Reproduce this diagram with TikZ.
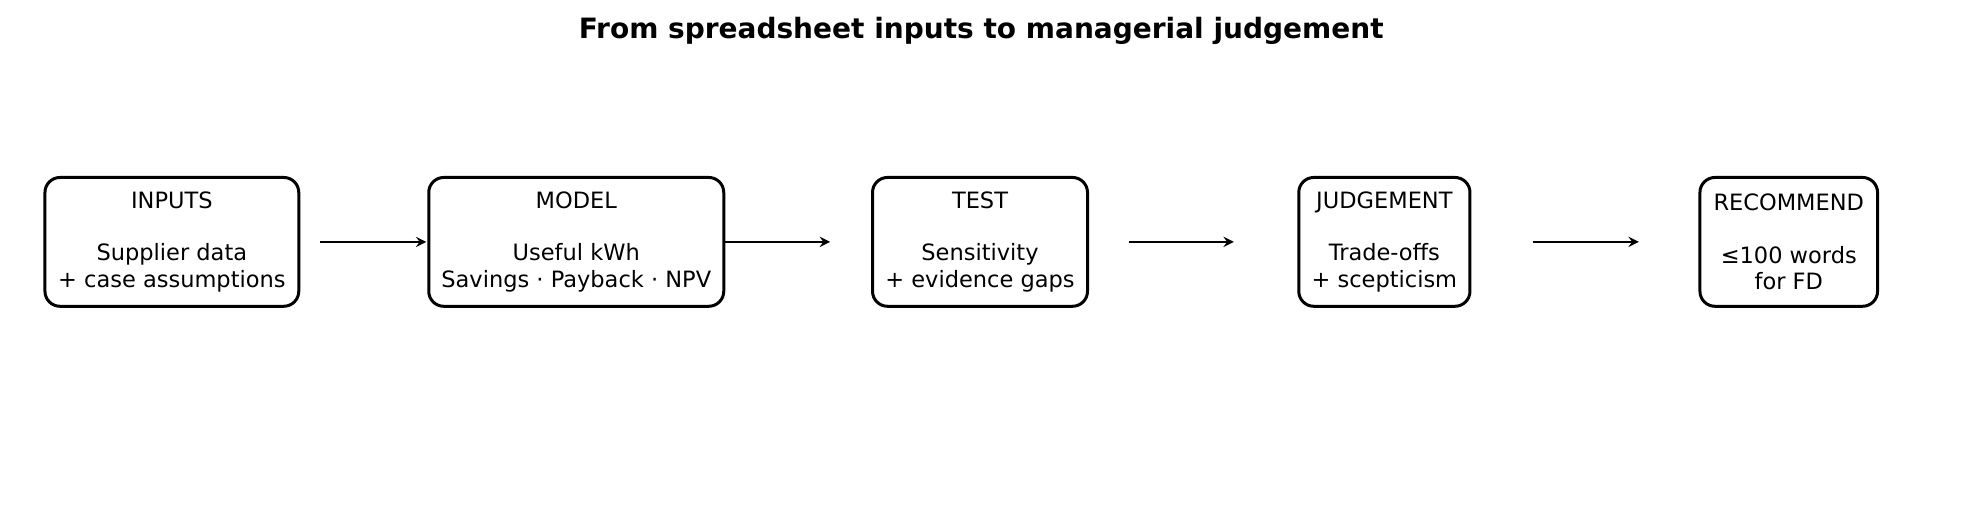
\documentclass[tikz,border=0pt]{standalone}
\usepackage{fontspec}
\setmainfont{DejaVu Sans}
\begin{document}
\begin{tikzpicture}[x=0.625pt,y=-0.625pt,
  box/.style={draw,line width=1.5pt,rounded corners=7.5pt,align=center,inner sep=0pt,
    font=\fontsize{11.25}{13.1}\selectfont},
  arr/.style={->,>=stealth,line width=1.25pt}]
\useasboundingbox (0,0) rectangle (1568.8,415.2);
\node[font=\fontsize{14}{16}\selectfont\bfseries] (title) at (785,25) {From spreadsheet inputs to managerial judgement};
\node[box,minimum width=126.9pt,minimum height=64.4pt] (in) at (137.5,193.5) {INPUTS\\\mbox{}\\Supplier data\\+ case assumptions};
\node[box,minimum width=147.5pt,minimum height=64.4pt] (mo) at (461,193.5) {MODEL\\\mbox{}\\Useful kWh\\Savings · Payback · NPV};
\node[box,minimum width=107.5pt,minimum height=64.4pt] (te) at (784,193.5) {TEST\\\mbox{}\\Sensitivity\\+ evidence gaps};
\node[box,minimum width=85.6pt,minimum height=64.4pt] (ju) at (1107.5,193.5) {JUDGEMENT\\\mbox{}\\Trade-offs\\+ scepticism};
\node[box,minimum width=88.8pt,minimum height=64.4pt] (re) at (1431,193.5) {RECOMMEND\\\mbox{}\\≤100 words\\for FD};
\coordinate (a1) at (256,193.5); \coordinate (b1) at (341,193.5);
\coordinate (a2) at (580,193.5); \coordinate (b2) at (664,193.5);
\coordinate (a3) at (903,193.5); \coordinate (b3) at (987,193.5);
\coordinate (a4) at (1226,193.5); \coordinate (b4) at (1311,193.5);
\draw[arr] (a1) -- (b1);
\draw[arr] (a2) -- (b2);
\draw[arr] (a3) -- (b3);
\draw[arr] (a4) -- (b4);
\end{tikzpicture}
\end{document}
